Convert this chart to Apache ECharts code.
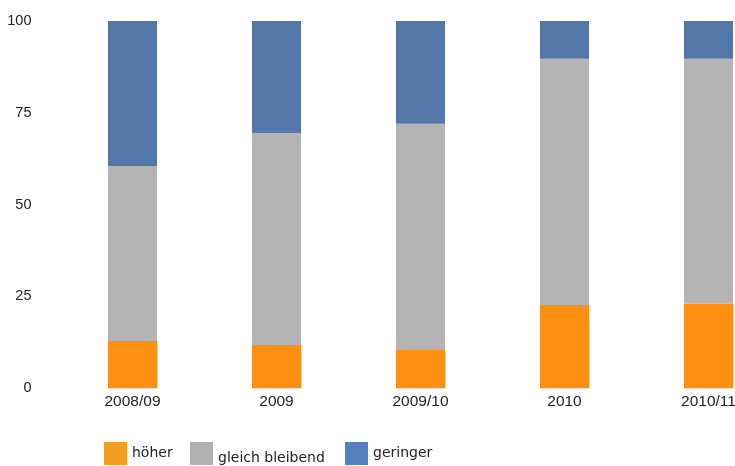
<!DOCTYPE html>
<html>
<head>
<meta charset="utf-8">
<script src="https://cdn.jsdelivr.net/npm/echarts@6/dist/echarts.min.js"></script>
<style>
html,body{margin:0;padding:0;background:#fff;}
#chart{width:735px;height:466px;}
</style>
</head>
<body>
<div id="chart"></div>
<script>
const categories = ['2008/09', '2009', '2009/10', '2010', '2010/11'];
const hoeher = [12.9, 11.8, 10.4, 22.7, 23.0];
const gleichBleibend = [47.6, 57.7, 61.6, 67.0, 66.7];
const geringer = [39.5, 30.5, 28.0, 10.3, 10.3];
const yTicks = [0, 25, 50, 75, 100];
const seriesNames = ['höher', 'gleich bleibend', 'geringer'];

const barColors = ['#FF9012', '#B4B4B4', '#5477A8'];
const legendColors = ['#F59E22', '#B1B1B1', '#5580C0'];

const chart = echarts.init(document.getElementById('chart'));
const textColor = '#222';

function legendFor(i, left, shift) {
  const lg = {
    left: left, top: 442, padding: 0,
    itemWidth: 23, itemHeight: 23, itemGap: 0,
    icon: 'rect',
    selectedMode: false,
    data: [{ name: seriesNames[i], itemStyle: { color: legendColors[i] } }],
    textStyle: { fontFamily: 'DejaVu Sans', fontSize: 14, color: textColor }
  };
  if (shift) {
    lg.formatter = '{a|{name}}';
    lg.textStyle.rich = { a: { fontFamily: 'DejaVu Sans', fontSize: 14, color: textColor, padding: [shift, 0, 0, 0] } };
  }
  return lg;
}

chart.setOption({
  animation: false,
  grid: { left: 60.5, width: 720, top: 21, bottom: 77.7, containLabel: false, outerBoundsMode: 'none' },
  legend: [
    legendFor(0, 104, 0),
    legendFor(1, 190, 10),
    legendFor(2, 345, 0)
  ],
  xAxis: {
    type: 'category',
    data: categories,
    axisLine: { show: false },
    axisTick: { show: false },
    axisLabel: { color: textColor, fontFamily: 'Liberation Sans', fontSize: 15.5, margin: 5 }
  },
  yAxis: {
    type: 'value',
    min: yTicks[0], max: yTicks[yTicks.length - 1], interval: 25,
    splitLine: { show: false },
    axisLine: { show: false },
    axisTick: { show: false },
    axisLabel: { color: textColor, fontFamily: 'Liberation Sans', fontSize: 14.5, margin: 29 }
  },
  series: [
    { name: seriesNames[0], type: 'bar', stack: 'a', data: hoeher, barWidth: 49, itemStyle: { color: barColors[0] } },
    { name: seriesNames[1], type: 'bar', stack: 'a', data: gleichBleibend, barWidth: 49, itemStyle: { color: barColors[1] } },
    { name: seriesNames[2], type: 'bar', stack: 'a', data: geringer, barWidth: 49, itemStyle: { color: barColors[2] } }
  ]
});
</script>
</body>
</html>
